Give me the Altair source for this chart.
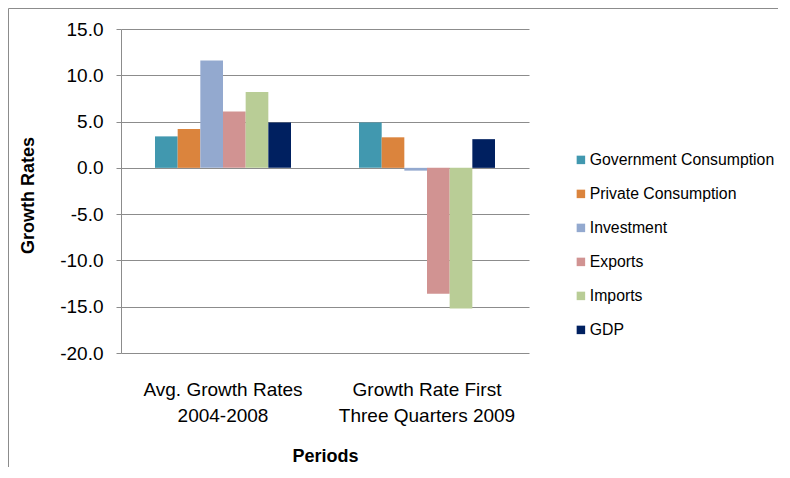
import altair as alt
import pandas as pd

periods = ["Avg. Growth Rates|2004-2008", "Growth Rate First|Three Quarters 2009"]
series = ["Government Consumption", "Private Consumption", "Investment", "Exports", "Imports", "GDP"]
avg_2004_2008 = [3.4, 4.2, 11.6, 6.1, 8.2, 4.9]
first_q3_2009 = [4.9, 3.3, -0.3, -13.6, -15.2, 3.1]
colors = ["#4198AF", "#DB843D", "#93A9CF", "#D19392", "#B9CD96", "#002060"]
y_ticks = [-20, -15, -10, -5, 0, 5, 10, 15]

rows = []
for s, v in zip(series, avg_2004_2008):
    rows.append({"Period": periods[0], "Series": s, "Growth": v})
for s, v in zip(series, first_q3_2009):
    rows.append({"Period": periods[1], "Series": s, "Growth": v})
df = pd.DataFrame(rows)

FONT = "Liberation Sans"

bars = alt.Chart(df).mark_bar().encode(
    x=alt.X(
        "Period:N",
        sort=periods,
        scale=alt.Scale(paddingInner=1 / 3, paddingOuter=1 / 6),
        axis=alt.Axis(
            title="Periods",
            labelExpr="split(datum.label, '|')",
            labelAngle=0,
            labelFontSize=19,
            labelLineHeight=26,
            labelBaseline="top",
            labelPadding=27,
            ticks=False,
            domain=False,
            grid=False,
            titleFontSize=18,
            titleFontWeight="bold",
            titleY=108,
            titleBaseline="alphabetic",
        ),
    ),
    xOffset=alt.XOffset("Series:N", sort=series, scale=alt.Scale(paddingInner=0, paddingOuter=0)),
    y=alt.Y(
        "Growth:Q",
        scale=alt.Scale(domain=[-20, 15], nice=False, zero=False),
        axis=alt.Axis(
            values=y_ticks,
            format=".1f",
            labelExpr="replace(datum.label, '\u2212', '-')",
            title="Growth Rates",
            labelFontSize=19,
            labelPadding=13,
            tickSize=5,
            tickColor="#8C8C8C",
            domainColor="#8C8C8C",
            gridColor="#8C8C8C",
            gridWidth=1,
            grid=True,
            titleFontSize=18,
            titleFontWeight="bold",
            titleX=-93,
            titleY=166,
            titleBaseline="middle",
        ),
    ),
    color=alt.Color(
        "Series:N",
        sort=series,
        scale=alt.Scale(domain=series, range=colors),
        legend=alt.Legend(
            title=None,
            orient="none",
            legendX=452,
            legendY=123,
            symbolType="square",
            symbolSize=72,
            symbolStrokeWidth=0,
            labelFontSize=15.8,
            labelOffset=1,
            labelLimit=0,
            rowPadding=17.0,
            labelColor="black",
        ),
    ),
)

frame_left = alt.Chart(alt.Data(values=[{}])).mark_rule(color="#8C8C8C", strokeWidth=1).encode(
    x=alt.value(-112.5), y=alt.value(-20.5), y2=alt.value(600)
)
frame_top = alt.Chart(alt.Data(values=[{}])).mark_rule(color="#8C8C8C", strokeWidth=1).encode(
    x=alt.value(-112.5), x2=alt.value(800), y=alt.value(-20.5)
)

chart = (
    alt.layer(frame_left, frame_top, bars)
    .properties(
        width=408,
        height=324,
        autosize=alt.AutoSizeParams(type="none"),
        padding={"left": 113, "top": 21, "right": 249, "bottom": 114},
    )
    .configure(font=FONT)
    .configure_view(stroke=None)
    .configure_axis(labelColor="black", titleColor="black", labelFont=FONT, titleFont=FONT)
    .configure_legend(labelFont=FONT)
)

chart.save("out.html", embed_options={"renderer": "svg", "actions": False})
